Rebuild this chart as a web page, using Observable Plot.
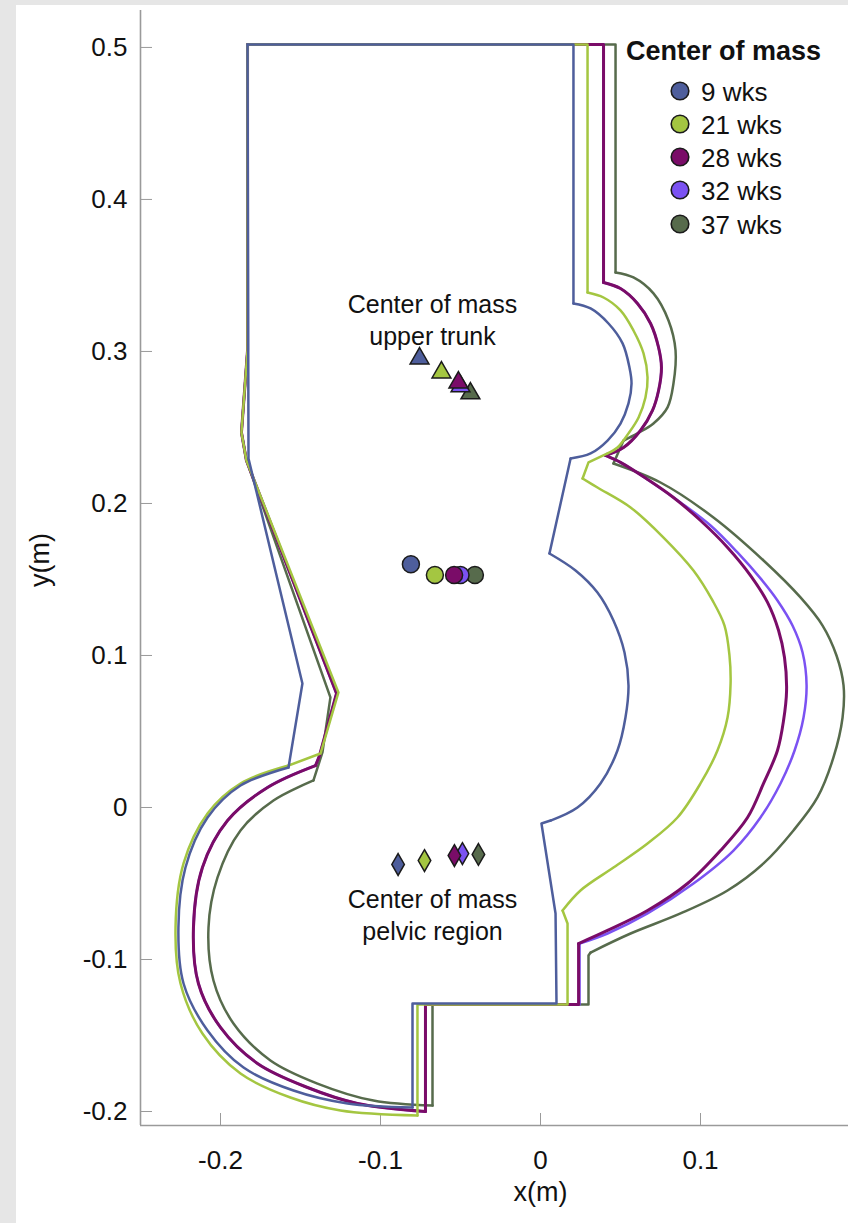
<!DOCTYPE html>
<html><head><meta charset="utf-8">
<script src="https://cdn.jsdelivr.net/npm/d3@7"></script>
<script src="https://cdn.jsdelivr.net/npm/@observablehq/plot@0.6"></script>
<style>
html,body{margin:0;padding:0;background:#e6e6e6;}
#wrap{position:relative;width:848px;height:1223px;overflow:hidden;}
#chart{position:absolute;left:16px;top:5px;width:832px;height:1218px;background:#fff;}
#legend{position:absolute;left:0;top:0;font-family:"Liberation Sans",Arial,Helvetica,sans-serif;color:#111;}
.lt{position:absolute;font-size:26px;line-height:26px;white-space:nowrap;}
</style></head>
<body><div id="wrap"><div id="chart"></div><div id="legend"></div></div>
<script>
const weeks = ["9 wks", "21 wks", "28 wks", "32 wks", "37 wks"];
const colors = ["#4e5e9c", "#a4c641", "#7a0c68", "#7b52f2", "#576b4c"];
const legendTitle = "Center of mass";
const xTicks = [-0.2, -0.1, 0, 0.1];
const xTickLabels = ["-0.2", "-0.1", "0", "0.1"];
const yTicks = [-0.2, -0.1, 0, 0.1, 0.2, 0.3, 0.4, 0.5];
const yTickLabels = ["-0.2", "-0.1", "0", "0.1", "0.2", "0.3", "0.4", "0.5"];
const xTitle = "x(m)";
const yTitle = "y(m)";
const xDomain = [-0.25, 0.1925];
const yDomain = [-0.2092, 0.5243];

// body outlines: pieces of straight lines and arcs (x, y in metres)
const outline9 = [
 ["line", [[-0.1831,0.502],[0.0206,0.502],[0.0206,0.3316]]],
 ["arc", [[0.0206,0.3316],[0.0313,0.3283],[0.0425,0.3184],[0.0513,0.3053],[0.0556,0.2895],[0.0569,0.2789],[0.055,0.2658],[0.05,0.2526],[0.0419,0.2414],[0.0313,0.2329],[0.0188,0.2296]]],
 ["line", [[0.0188,0.2296],[0.0056,0.1671]]],
 ["arc", [[0.0056,0.1671],[0.0219,0.1559],[0.0356,0.1414],[0.0456,0.123],[0.0525,0.102],[0.055,0.0803],[0.0531,0.0592],[0.0481,0.0375],[0.0375,0.0158],[0.0231,0],[0.0063,-0.0086]]],
 ["line", [[0.0063,-0.0086],[0.0006,-0.0105],[0.0094,-0.0697],[0.01,-0.1289],[-0.08,-0.1289],[-0.08,-0.1974]]],
 ["arc", [[-0.08,-0.1974],[-0.1206,-0.1947],[-0.1544,-0.1862],[-0.1856,-0.1711],[-0.2081,-0.1467],[-0.2231,-0.1158],[-0.2263,-0.0789],[-0.2219,-0.0395],[-0.2081,-0.0066],[-0.1875,0.0145],[-0.1575,0.0263]]],
 ["line", [[-0.1575,0.0263],[-0.1488,0.0816],[-0.1825,0.2296],[-0.1831,0.502]]]
];
const outline21 = [
 ["line", [[-0.1831,0.502],[0.0294,0.502],[0.0294,0.3388]]],
 ["arc", [[0.0294,0.3388],[0.0394,0.3355],[0.05,0.327],[0.0581,0.3138],[0.0644,0.2987],[0.0669,0.2829],[0.0656,0.2697],[0.0613,0.2566],[0.055,0.2461],[0.0481,0.2368],[0.0419,0.2329]]],
 ["line", [[0.0419,0.2329],[0.03,0.227],[0.0263,0.2164]]],
 ["arc", [[0.0263,0.2164],[0.0356,0.2105],[0.0563,0.1974],[0.0769,0.1776],[0.0956,0.1559],[0.1075,0.1362],[0.115,0.1197],[0.1181,0.1],[0.1188,0.0816],[0.1169,0.0592],[0.1106,0.0375],[0.1,0.0158],[0.0856,-0.0066],[0.0669,-0.0237],[0.0456,-0.0395],[0.025,-0.0546],[0.0138,-0.0678]]],
 ["line", [[0.0138,-0.0678],[0.0169,-0.0763],[0.0169,-0.1296],[-0.0769,-0.1296],[-0.0769,-0.2026]]],
 ["arc", [[-0.0769,-0.2026],[-0.125,-0.1993],[-0.1563,-0.1908],[-0.1875,-0.175],[-0.2113,-0.1487],[-0.225,-0.1158],[-0.2281,-0.0789],[-0.2231,-0.0368],[-0.2081,-0.0039],[-0.1875,0.0158],[-0.1575,0.0276]]],
 ["line", [[-0.1575,0.0276],[-0.1375,0.0355],[-0.1263,0.0757],[-0.1838,0.2283],[-0.1869,0.2467],[-0.1831,0.3007],[-0.1831,0.502]]]
];
const outline28 = [
 ["line", [[-0.1831,0.502],[0.0394,0.502],[0.0394,0.3454]]],
 ["arc", [[0.0394,0.3454],[0.05,0.3414],[0.0606,0.3316],[0.0688,0.3184],[0.0738,0.3026],[0.0756,0.2895],[0.0738,0.2743],[0.07,0.2612],[0.0625,0.248],[0.0519,0.2368],[0.0406,0.2316]]],
 ["arc", [[0.0406,0.2316],[0.05,0.227],[0.0669,0.2158],[0.0831,0.2039],[0.1,0.1888],[0.1169,0.1711],[0.1313,0.1526],[0.1419,0.1349],[0.1488,0.1164],[0.1525,0.0987],[0.1538,0.077],[0.1519,0.0572],[0.1481,0.0375],[0.1394,0.0158],[0.1294,-0.0066],[0.1125,-0.0283],[0.0919,-0.05],[0.0669,-0.0678],[0.0419,-0.0809],[0.0238,-0.0895]]],
 ["line", [[0.0238,-0.0895],[0.0238,-0.1296],[-0.0719,-0.1296],[-0.0719,-0.2]]],
 ["arc", [[-0.0719,-0.2],[-0.1144,-0.1947],[-0.1456,-0.1842],[-0.1769,-0.1684],[-0.2,-0.1447],[-0.2138,-0.1158],[-0.2169,-0.0789],[-0.2113,-0.0395],[-0.1956,-0.0086],[-0.1706,0.0132],[-0.1406,0.0276]]],
 ["line", [[-0.1406,0.0276],[-0.1381,0.0342],[-0.1275,0.075],[-0.1838,0.2283],[-0.1869,0.2467],[-0.1831,0.3007],[-0.1831,0.502]]]
];
const outline32 = [
 ["line", [[-0.1831,0.502],[0.0394,0.502],[0.0394,0.3454]]],
 ["arc", [[0.0394,0.3454],[0.05,0.3414],[0.0606,0.3316],[0.0688,0.3184],[0.0738,0.3026],[0.0756,0.2895],[0.0738,0.2743],[0.07,0.2612],[0.0625,0.248],[0.0519,0.2368],[0.0406,0.2316]]],
 ["arc", [[0.0406,0.2316],[0.05,0.227],[0.0669,0.2158],[0.0875,0.2007],[0.1063,0.1855],[0.1231,0.1678],[0.1375,0.1507],[0.1481,0.1362],[0.1575,0.1197],[0.1638,0.102],[0.1663,0.0803],[0.1644,0.0592],[0.1588,0.0375],[0.15,0.0158],[0.1375,-0.0066],[0.1206,-0.0283],[0.0956,-0.05],[0.0669,-0.0697],[0.0419,-0.0829],[0.0244,-0.0895]]],
 ["line", [[0.0244,-0.0895],[0.0244,-0.1296],[-0.0719,-0.1296],[-0.0719,-0.2]]],
 ["arc", [[-0.0719,-0.2],[-0.1144,-0.1947],[-0.1456,-0.1842],[-0.1769,-0.1684],[-0.2,-0.1447],[-0.2138,-0.1158],[-0.2169,-0.0789],[-0.2113,-0.0395],[-0.1956,-0.0086],[-0.1706,0.0132],[-0.1406,0.0276]]],
 ["line", [[-0.1406,0.0276],[-0.1381,0.0342],[-0.1275,0.075],[-0.1838,0.2283],[-0.1869,0.2467],[-0.1831,0.3007],[-0.1831,0.502]]]
];
const outline37 = [
 ["line", [[-0.1831,0.502],[0.0469,0.502],[0.0469,0.352]]],
 ["arc", [[0.0469,0.352],[0.0581,0.3487],[0.0706,0.3382],[0.08,0.3204],[0.0844,0.3007],[0.0831,0.2789],[0.0794,0.2632],[0.0706,0.2526],[0.0606,0.2461],[0.0519,0.2414]]],
 ["line", [[0.0519,0.2414],[0.0456,0.2263]]],
 ["arc", [[0.0456,0.2263],[0.075,0.2138],[0.1081,0.1908],[0.1394,0.1625],[0.1625,0.1382],[0.1763,0.1197],[0.185,0.1],[0.1894,0.0803],[0.1888,0.0592],[0.1831,0.0329],[0.1731,0.0066],[0.1581,-0.0151],[0.1394,-0.0368],[0.1169,-0.0546],[0.0875,-0.0697],[0.0563,-0.0829],[0.0313,-0.0954]]],
 ["line", [[0.0313,-0.0954],[0.03,-0.0974],[0.03,-0.1296],[-0.0675,-0.1296],[-0.0675,-0.1961]]],
 ["arc", [[-0.0675,-0.1961],[-0.1044,-0.1928],[-0.1394,-0.1816],[-0.1688,-0.1664],[-0.1919,-0.1421],[-0.2044,-0.1138],[-0.2075,-0.0789],[-0.2019,-0.0461],[-0.1875,-0.0151],[-0.1669,0.0046],[-0.1419,0.0178]]],
 ["line", [[-0.1419,0.0178],[-0.1363,0.0362],[-0.1313,0.0724],[-0.1838,0.2283],[-0.1869,0.2467],[-0.1831,0.3007],[-0.1831,0.502]]]
];

// centres of mass (x, y in metres), one per week
const trunkX = [-0.0756, -0.0619, -0.0513, -0.0500, -0.0438];
const trunkY = [0.2954, 0.2862, 0.2796, 0.2770, 0.2724];
const bodyX = [-0.0810, -0.0660, -0.0540, -0.0500, -0.0410];
const bodyY = [0.1600, 0.1530, 0.1530, 0.1530, 0.1530];
const pelvisX = [-0.0890, -0.0725, -0.0538, -0.0488, -0.0388];
const pelvisY = [-0.0375, -0.0349, -0.0316, -0.0303, -0.0309];

const annotations = [
  {x: -0.0675, y: 0.3215, text: "Center of mass\nupper trunk"},
  {x: -0.0675, y: -0.0697, text: "Center of mass\npelvic region"}
];

const outlines = {"9 wks": outline9, "21 wks": outline21, "28 wks": outline28, "32 wks": outline32, "37 wks": outline37};
const drawOrder = weeks.slice().reverse();

const table = [];
drawOrder.forEach(w => outlines[w].forEach((piece, i) =>
  piece[1].forEach(([x, y]) => table.push({week: w, seg: w + "-" + i, kind: piece[0], x, y}))));

const markers = [];
drawOrder.forEach(w => {
  const i = weeks.indexOf(w);
  markers.push({week: w, kind: "trunk", x: trunkX[i], y: trunkY[i]});
  markers.push({week: w, kind: "body", x: bodyX[i], y: bodyY[i]});
  markers.push({week: w, kind: "pelvis", x: pelvisX[i], y: pelvisY[i]});
});

const lineMarks = drawOrder.flatMap(w => [
  Plot.line(table.filter(d => d.week === w && d.kind === "line"),
    {x: "x", y: "y", z: "seg", stroke: "week", strokeWidth: w === "28 wks" ? 3 : 2.5, strokeLinejoin: "round"}),
  Plot.line(table.filter(d => d.week === w && d.kind === "arc"),
    {x: "x", y: "y", z: "seg", stroke: "week", strokeWidth: w === "28 wks" ? 3 : 2.5, curve: "catmull-rom"})
]);

const chart = Plot.plot({
  width: 832, height: 1218,
  marginLeft: 124, marginRight: 0, marginTop: 5, marginBottom: 98,
  style: {fontFamily: '"Liberation Sans", Arial, Helvetica, sans-serif', background: "#fff", color: "#111", overflow: "visible"},
  x: {domain: xDomain},
  y: {domain: yDomain},
  color: {domain: weeks, range: colors},
  marks: [
    Plot.ruleX([xDomain[0]], {stroke: "#9a9a9a", strokeWidth: 1.6}),
    Plot.ruleY([yDomain[0]], {stroke: "#9a9a9a", strokeWidth: 1.6}),
    Plot.axisY(yTicks, {anchor: "left", tickSize: -12, tickPadding: 25, fontSize: 26, stroke: "#9a9a9a", fill: "#111",
      label: null, tickFormat: d => yTickLabels[yTicks.indexOf(d)]}),
    Plot.axisX(xTicks, {anchor: "bottom", tickSize: -12, tickPadding: 37, fontSize: 26, stroke: "#9a9a9a", fill: "#111",
      label: null, tickFormat: d => xTickLabels[xTicks.indexOf(d)]}),
    Plot.text([xTitle], {x: () => 0, frameAnchor: "bottom", dy: 75, fontSize: 27, fill: "#111", text: d => d}),
    Plot.text([yTitle], {y: () => 0.145, frameAnchor: "left", dx: -100, rotate: -90, fontSize: 27, fill: "#111", text: d => d}),
    ...lineMarks,
    Plot.dot(markers.filter(d => d.kind === "trunk"), {x: "x", y: "y", fill: "week", symbol: "triangle", r: 7, stroke: "#1b1b1b", strokeWidth: 1.5}),
    Plot.dot(markers.filter(d => d.kind === "body"), {x: "x", y: "y", fill: "week", symbol: "circle", r: 8.5, stroke: "#1b1b1b", strokeWidth: 1.5}),
    Plot.dot(markers.filter(d => d.kind === "pelvis"), {x: "x", y: "y", fill: "week", symbol: "diamond", r: 6.6, stroke: "#1b1b1b", strokeWidth: 1.5}),
    Plot.text(annotations, {x: "x", y: "y", text: "text", fontSize: 25, lineHeight: 1.28, fill: "#111", textAnchor: "middle"})
  ]
});
document.getElementById("chart").appendChild(chart);

// legend
const lg = document.getElementById("legend");
const title = document.createElement("div");
title.className = "lt";
title.style.left = "626px"; title.style.top = "38px"; title.style.fontWeight = "bold"; title.style.fontSize = "27px";
title.textContent = legendTitle;
lg.appendChild(title);
const rowY = [91, 124, 157, 190, 224];
weeks.forEach((w, i) => {
  const ns = "http://www.w3.org/2000/svg";
  const s = document.createElementNS(ns, "svg");
  s.setAttribute("width", 22); s.setAttribute("height", 22);
  s.style.position = "absolute"; s.style.left = "669px"; s.style.top = (rowY[i] - 11) + "px";
  const c = document.createElementNS(ns, "circle");
  c.setAttribute("cx", 11); c.setAttribute("cy", 11); c.setAttribute("r", 8.8);
  c.setAttribute("fill", colors[i]); c.setAttribute("stroke", "#1b1b1b"); c.setAttribute("stroke-width", 1.6);
  s.appendChild(c); lg.appendChild(s);
  const t = document.createElement("div");
  t.className = "lt";
  t.style.left = "701px"; t.style.top = (rowY[i] - 12) + "px";
  t.textContent = w;
  lg.appendChild(t);
});
</script>
</body></html>
